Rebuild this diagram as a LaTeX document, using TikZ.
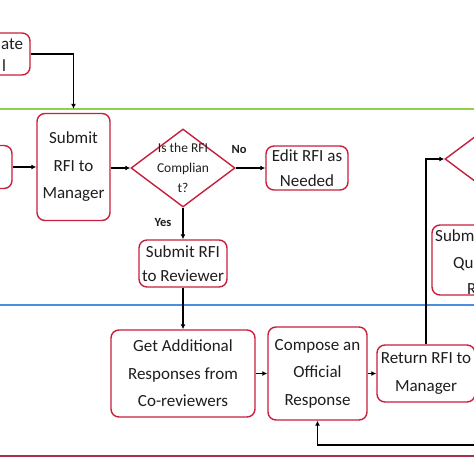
\documentclass[tikz,border=0pt]{standalone}
\usepackage{fontspec}
\setmainfont{Carlito}
\usetikzlibrary{shapes.geometric,arrows.meta}
\definecolor{boxred}{HTML}{C8203C}
\definecolor{lanegreen}{HTML}{8ED24C}
\definecolor{laneblue}{HTML}{4A8EE0}
\definecolor{lanemaroon}{HTML}{A8304C}
\definecolor{txt}{HTML}{1E1E1E}
\begin{document}
\begin{tikzpicture}[x=1pt,y=-1pt,
  box/.style={draw=boxred, line width=1.4pt, rounded corners=8pt, fill=white, align=center, inner sep=0pt, text=txt, font=\fontsize{17}{27.5}\selectfont},
  dia/.style={draw=boxred, line width=1.4pt, diamond, fill=white, inner sep=0pt},
  arr/.style={draw=black, line width=1.1pt, -{Latex[length=5pt,width=5pt]}},
  lane/.style={line width=1.8pt},
  lbl/.style={font=\fontsize{12.5}{15}\selectfont\bfseries, text=txt, inner sep=0pt},
  frag/.style={font=\fontsize{17}{27.5}\selectfont, text=txt, inner sep=0pt, anchor=base west}
]
\useasboundingbox (0,0) rectangle (474,474);
\clip (0,0) rectangle (474,474);
\fill[white] (0,0) rectangle (474,474);
% lanes
\draw[lane, lanegreen] (-5,109) -- (480,109);
\draw[lane, laneblue] (-5,305) -- (480,305);
\draw[lane, lanemaroon] (-5,456) -- (480,456);
% nodes
\node[box, minimum width=80pt, minimum height=42pt] (init) at (-10,54) {};
\node[frag] (inita) at (1,49) {ate};
\node[frag] (initb) at (2,71) {l};
\node[box, minimum width=80pt, minimum height=43pt] (draft) at (-28,167) {};
\node[box, minimum width=73pt, minimum height=107pt] (mgr) at (73.5,167) {Submit\\RFI to\\Manager};
\node[dia, minimum width=104pt, minimum height=78pt] (q1) at (183,168) {};
\node[font=\fontsize{13.5}{20}\selectfont, align=center, text=txt, inner sep=0pt] (q1t) at (q1.center) {Is the RFI\\Complian\\t?};
\node[box, minimum width=82pt, minimum height=44pt, font=\fontsize{17}{25}\selectfont] (edit) at (307,168) {Edit RFI as\\Needed};
\node[box, minimum width=88pt, minimum height=47pt, font=\fontsize{17}{24}\selectfont] (rev) at (183,263.5) {Submit RFI\\to Reviewer};
\node[box, minimum width=144pt, minimum height=87pt] (get) at (183,373.5) {Get Additional\\Responses from\\Co-reviewers};
\node[box, minimum width=99pt, minimum height=93pt] (comp) at (317.5,373.5) {Compose an\\Official\\Response};
\node[box, minimum width=98pt, minimum height=57pt] (ret) at (426,373.5) {Return RFI to\\Manager};
\node[dia, minimum width=104pt, minimum height=78pt] (q2) at (497,159) {};
\node[box, minimum width=92pt, minimum height=70pt] (qr) at (478,260) {};
\node[frag] (qra) at (435,241) {Subm};
\node[frag] (qrb) at (453,268) {Qu};
\node[frag] (qrc) at (467,294.5) {R};
\node[lbl] (nolbl) at (239,149) {No};
\node[lbl] (yeslbl) at (163,222) {Yes};
% connectors
\draw[arr, shorten >=4pt] (init.east) -| (mgr.north);
\draw[arr] (draft.east) -- (mgr.west);
\draw[arr] (mgr.east |- q1.west) -- (q1.west);
\draw[arr] (q1.east) -- (edit.west);
\draw[arr] (q1.south) -- (rev.north);
\draw[arr] (rev.south) -- (get.north);
\draw[arr] (get.east) -- (comp.west);
\draw[arr] (comp.east) -- (ret.west);
\draw[arr] (ret.north) |- (q2.west);
\coordinate (fbstart) at (480,445);
\draw[arr] (fbstart) -| (comp.south);
\end{tikzpicture}
\end{document}
